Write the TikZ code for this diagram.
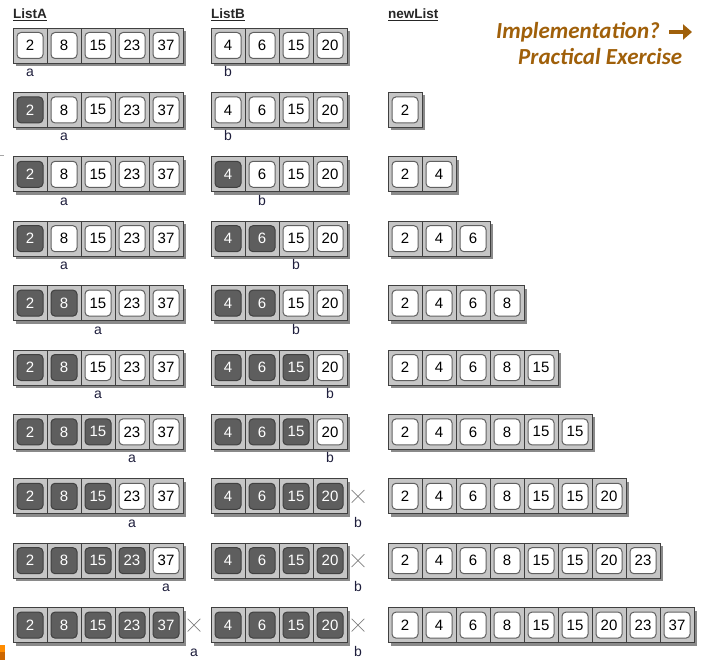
\documentclass[tikz,border=0pt]{standalone}
\usepackage{fontspec}
\setmainfont{Liberation Sans}
\newfontfamily\calfont{Carlito}
\usetikzlibrary{positioning,shadows,shapes.misc,arrows.meta}

\definecolor{slotgray}{HTML}{C6C6C6}
\definecolor{edgegray}{HTML}{404040}
\definecolor{usedgray}{HTML}{5E5E5E}
\definecolor{shadegray}{HTML}{8A8A8A}
\definecolor{titlebrown}{HTML}{A0600A}
\definecolor{ptrblue}{HTML}{1E1E3C}

\tikzset{
  slot/.style={draw=edgegray, fill=slotgray, line width=0.9pt,
    minimum width=34pt, minimum height=35pt, inner sep=0pt,
    drop shadow={shadow xshift=3pt, shadow yshift=-3pt, fill=shadegray, opacity=1}},
  item/.style={draw=gray!75!black, fill=white, line width=1pt,
    rounded corners=4pt, minimum size=26pt, inner sep=0pt,
    font=\fontsize{15}{15}\selectfont},
  used/.style={item, draw=edgegray, fill=usedgray, text=white},
  ptr/.style={anchor=base, inner sep=0pt, text=ptrblue, font=\fontsize{14}{14}\selectfont},
  gone/.style={cross out, draw=gray, line width=0.7pt, minimum size=12pt, inner sep=0pt},
  head/.style={anchor=base west, inner sep=0pt, text=black!85, font=\bfseries\fontsize{13.5}{13.5}\selectfont},
  title/.style={anchor=base west, inner sep=0pt, text=titlebrown, font=\calfont\bfseries\itshape\fontsize{23}{23}\selectfont},
}

% #1 name, #2 left x, #3 row y, #4 values, #5 used cells, #6 shown cells
\newcommand{\drawlist}[6]{%
  \foreach \v [count=\i] in {#4} {%
    \ifnum\i>#6\relax\else
      \ifnum\i>#5\relax\def\sty{item}\else\def\sty{used}\fi
      \node[slot] (#1-\i) at ({#2+34*\i-17},#3) {};
      \node[\sty] (#1-\i-v) at (#1-\i) {\v};
    \fi
  }%
}

% #1 name, #2 left x, #3 row y, #4 position, #5 cells, #6 letter
\newcommand{\drawptr}[6]{%
  \ifnum#4>#5\relax
    \node[gone] (#1x) at ({#2+34*#5+11},#3) {};
    \node[ptr] (#1) at ({#2+34*#5+11},{#3+31}) {#6};
  \else
    \node[ptr] (#1) at ({#2+34*#4-17},{#3+31}) {#6};
  \fi
}

\begin{document}
\begin{tikzpicture}[x=1pt,y=-1pt]
\useasboundingbox (0,0) rectangle (711,660);

% column heads
\node[head] (headA) at (13,19) {\underline{ListA}};
\node[head] (headB) at (211,19) {\underline{ListB}};
\node[head] (headN) at (388,19) {\underline{newList}};

\node[title] (impl) at (496,39) {Implementation?};
\node[title] (prac) at (518,65) {Practical Exercise};
\coordinate (go) at ([xshift=9pt,yshift=7pt]impl.base east);
\coordinate (end) at ([xshift=32pt,yshift=7pt]impl.base east);
\draw[titlebrown, line width=3.6pt, -{Triangle[length=9pt,width=15pt]}] (go) -- (end);

% one row per merge step
\foreach \r/\da/\pa/\db/\pb/\nn in {1/0/1/0/1/0, 2/1/2/0/1/1, 3/1/2/1/2/2,
    4/1/2/2/3/3, 5/2/3/2/3/4, 6/2/3/3/4/5, 7/3/4/3/4/6,
    8/3/4/4/5/7, 9/4/5/4/5/8, 10/5/6/4/5/9} {
  \pgfmathsetmacro{\yy}{45.5+64.4*(\r-1)}
  \drawlist{A\r}{13}{\yy}{2,8,15,23,37}{\da}{5}
  \drawlist{B\r}{211}{\yy}{4,6,15,20}{\db}{4}
  \drawlist{N\r}{388}{\yy}{2,4,6,8,15,15,20,23,37}{0}{\nn}
  \drawptr{a\r}{13}{\yy}{\pa}{5}{a}
  \drawptr{b\r}{211}{\yy}{\pb}{4}{b}
}

% bits at the left edge
\draw[gray!70] (0,155) -- (4,155);
\fill[orange!90!yellow] (0,645) rectangle (5,652);
\fill[orange!80!black] (0,652) rectangle (5,660);
\end{tikzpicture}
\end{document}
